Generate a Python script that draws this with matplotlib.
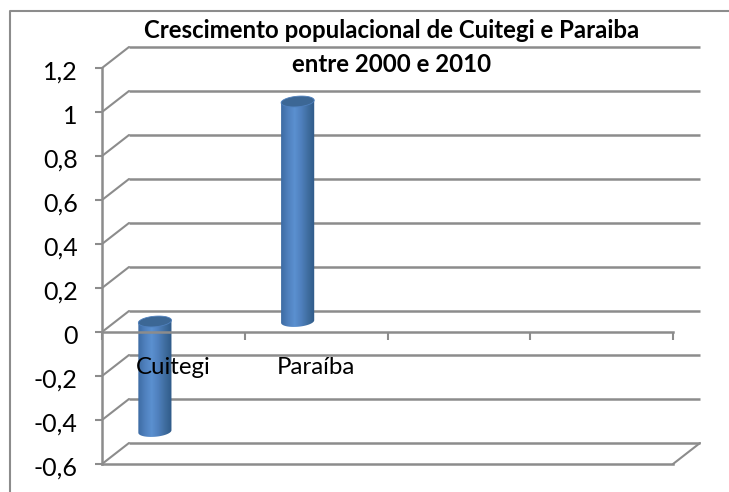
import numpy as np
import matplotlib
matplotlib.use('Agg')
import matplotlib.pyplot as plt
from matplotlib.lines import Line2D
from matplotlib.patches import PathPatch
from matplotlib.path import Path
from matplotlib.transforms import ScaledTranslation
from matplotlib.colors import LinearSegmentedColormap

# data
categories = ['Cuitegi', 'Paraíba']
values = [-0.5, 1.0]
y_ticks = [-0.6, -0.4, -0.2, 0, 0.2, 0.4, 0.6, 0.8, 1, 1.2]
y_labels = ['-0,6', '-0,4', '-0,2', '0', '0,2', '0,4', '0,6', '0,8', '1', '1,2']
title_lines = 'Crescimento populacional de Cuitegi e Paraiba\nentre 2000 e 2010'

GREY = '#8c8c8c'
plt.rcParams['font.family'] = ['Lato', 'DejaVu Sans']

W, H = 729, 492
fig = plt.figure(figsize=(W / 100, H / 100), dpi=100)
fig.patch.set_facecolor('white')
ax = fig.add_axes([102 / W, (H - 464) / H, 571 / W, 396 / H])
ax.set_xlim(0, 4)
ax.set_ylim(-0.6, 1.2)
ax.patch.set_visible(False)

# outer frame, only the top and left edges are inside the picture
fig.add_artist(Line2D([9.5 / W, 9.5 / W, 1], [0, (H - 11) / H, (H - 11) / H], transform=fig.transFigure,
                      color=GREY, lw=1.5))

# the depth of the fake 3d box, in inches
dx, dy = 0.27, 0.21
back = ax.transData + ScaledTranslation(dx, dy, fig.dpi_scale_trans)
mid = ax.transData + ScaledTranslation(dx / 2, dy / 2, fig.dpi_scale_trans)

# back wall lines and diagonals of the left wall
for v in y_ticks:
    ax.plot([0, 4], [v, v], color=GREY, lw=1.8, transform=back, clip_on=False, zorder=1,
            solid_capstyle='butt')
    ax.annotate('', xy=(0, v), xycoords=back, xytext=(0, v), textcoords=ax.transData,
                arrowprops=dict(arrowstyle='-', color=GREY, lw=1.5, shrinkA=0, shrinkB=0), zorder=1)
# floor
ax.axhline(-0.6, color=GREY, lw=1.8, zorder=1, clip_on=False)
ax.annotate('', xy=(4, -0.6), xycoords=back, xytext=(4, -0.6), textcoords=ax.transData,
            arrowprops=dict(arrowstyle='-', color=GREY, lw=1.5, shrinkA=0, shrinkB=0), zorder=1)

# cylinders
cmap = LinearSegmentedColormap.from_list('cyl', ['#3d6ba3', '#4f80bd', '#5b90d0', '#4f80bd', '#3f6d9f', '#2f5a88'])
grad = np.linspace(0, 1, 128).reshape(1, -1)
half = 0.116
ry = 0.024
tilt = 0.05
t = np.linspace(0, np.pi, 40)
for i, v in enumerate(values):
    xc = i + 0.276
    ex = xc + half * np.cos(t)
    skew = tilt * half * np.cos(t)
    # body: bottom arc at 0, top arc at the value, whichever is lower comes out round
    lo, hi = min(v, 0), max(v, 0)
    low_x = ex[::-1]
    low_y = lo - ry * np.sin(t)[::-1] + skew[::-1]
    up_x = ex
    up_y = hi + skew
    px = np.r_[low_x, up_x]
    py = np.r_[low_y, up_y]
    body = PathPatch(Path(np.c_[px, py]), transform=mid, fc='none', ec='none')
    ax.add_patch(body)
    im = ax.imshow(grad, cmap=cmap, aspect='auto', extent=[xc - half, xc + half, lo - 0.05, hi + 0.05],
                   transform=mid, zorder=2, clip_on=True)
    im.set_clip_path(body)
    # the cap
    tt = np.linspace(0, 2 * np.pi, 60)
    cap = np.c_[xc + half * np.cos(tt), hi + ry * np.sin(tt) + tilt * half * np.cos(tt)]
    ax.add_patch(PathPatch(Path(cap), transform=mid, fc='#3c6795', ec='#4f80bd', lw=0.6, zorder=2.1))

ax.set_xlim(0, 4)
ax.set_ylim(-0.6, 1.2)

# axes
for s in ['top', 'right']:
    ax.spines[s].set_visible(False)
ax.spines['bottom'].set_position(('data', 0))
for s in ['left', 'bottom']:
    ax.spines[s].set_color(GREY)
    ax.spines[s].set_linewidth(1.8)
    ax.spines[s].set_zorder(2.5)
ax.set_yticks(y_ticks)
ax.set_yticklabels(y_labels, fontsize=18, color='black')
ax.set_xticks(range(5))
ax.set_xticklabels([])
ax.tick_params(axis='y', length=5, width=1.5, color=GREY, pad=12.5)
ax.tick_params(axis='x', length=5.5, width=1.5, color=GREY, direction='out')
# labels sit a little under their ticks in the original
nudge = ScaledTranslation(0, -0.02, fig.dpi_scale_trans)
for lab in ax.get_yticklabels():
    lab.set_transform(lab.get_transform() + nudge)

for i, c in enumerate(categories):
    ax.annotate(c, (i + 0.5, 0), xytext=(0, -35), textcoords='offset pixels', ha='center', va='center',
                fontsize=17.3, color='black', zorder=3)

fig.text(392 / W, (H - 31) / H, title_lines.split('\n')[0], ha='center', va='center',
         fontsize=17.3, fontweight='bold', color='black')
fig.text(392 / W, (H - 65) / H, title_lines.split('\n')[1], ha='center', va='center',
         fontsize=17.3, fontweight='bold', color='black')

fig.savefig('out.png', dpi=100)
